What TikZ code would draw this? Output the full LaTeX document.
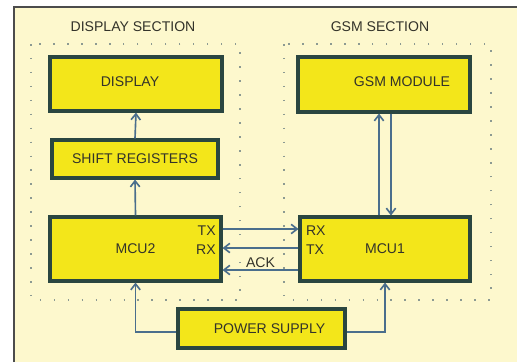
\documentclass[tikz,border=0pt]{standalone}
\usepackage{fontspec}
\setmainfont{Liberation Sans}
\usepackage{xcolor}
\usetikzlibrary{arrows.meta, positioning}

\definecolor{paper}{HTML}{FDF8CD}
\definecolor{blockfill}{HTML}{F3E61A}
\definecolor{blockline}{HTML}{2A4640}
\definecolor{linkblue}{HTML}{4A6E8C}
\definecolor{dotgray}{HTML}{8C9A92}
\definecolor{inkgray}{HTML}{33332A}

\begin{document}
\begin{tikzpicture}[
  x=0.03cm, y=-0.03cm,
  every node/.style={font=\fontsize{12}{14}\selectfont, text=inkgray},
  block/.style={draw=blockline, fill=blockfill, line width=2.6pt, inner sep=0pt},
  section/.style={draw=dotgray, line width=1.3pt, dash pattern=on 1.3pt off 10.6pt},
  link/.style={draw=linkblue, line width=1.4pt, -{Straight Barb[length=1.8mm,width=2.8mm]}},
  pin/.style={inner sep=0pt}
]
\useasboundingbox (0,0) rectangle (517,362);
\fill[paper] (14,7) rectangle (517,362);
\draw[gray!60!black, line width=1.5pt] (14,362) -- (14,7) -- (517,7);

% sections
\draw[section] (31,44) rectangle (240,300);
\draw[section] (284,44) rectangle (491,300);
\node (dispsec) at (133,27) {DISPLAY SECTION};
\node (gsmsec) at (380,27) {GSM SECTION};

% blocks
\node[block, minimum width=5.16cm, minimum height=1.62cm,
  label={[xshift=-0.18cm, yshift=0.07cm]center:DISPLAY}] (display) at (136,84) {};
\node[block, minimum width=4.98cm, minimum height=1.14cm] (shift) at (135,159) {SHIFT REGISTERS};
\node[block, minimum width=5.13cm, minimum height=1.92cm] (mcu2) at (135.5,249) {MCU2};
\node[block, minimum width=5.16cm, minimum height=1.65cm,
  label={[xshift=0.54cm, yshift=0.08cm]center:GSM MODULE}] (gsm) at (384,84.5) {};
\node[block, minimum width=5.1cm, minimum height=1.92cm] (mcu1) at (385,249) {MCU1};
\node[block, minimum width=5.01cm, minimum height=1.17cm,
  label={[xshift=0.24cm]center:POWER SUPPLY}] (power) at (261.5,328.5) {};

% pins
\node[pin, anchor=east] (tx2) at ([xshift=-0.2cm, yshift=0.54cm]mcu2.east) {TX};
\node[pin, anchor=east] (rx2) at ([xshift=-0.2cm, yshift=-0.03cm]mcu2.east) {RX};
\node[pin, anchor=west] (rx1) at ([xshift=0.22cm, yshift=0.54cm]mcu1.west) {RX};
\node[pin, anchor=west] (tx1) at ([xshift=0.22cm, yshift=-0.03cm]mcu1.west) {TX};

% connections
\draw[link] (mcu2.north) -- (shift.south);
\draw[link] (shift.north) -- (display.south);

\coordinate (gsmup) at ([xshift=-0.18cm]mcu1.north);
\coordinate (gsmdown) at ([xshift=0.21cm]gsm.south);
\draw[link] (gsmup) -- (gsmup |- gsm.south);
\draw[link] (gsmdown) -- (gsmdown |- mcu1.north);

\draw[link] ([yshift=0.6cm]mcu2.east) -- ([yshift=0.6cm]mcu1.west);
\draw[link] ([yshift=0.03cm]mcu1.west) -- ([yshift=0.03cm]mcu2.east);
\draw[link] ([yshift=-0.63cm]mcu1.west) -- node[above, inner sep=1.5pt] (ack) {ACK} ([yshift=-0.63cm]mcu2.east);

\draw[link] ([yshift=-0.1cm]power.west) -| (mcu2.south);
\draw[link] ([yshift=-0.1cm]power.east) -| (mcu1.south);
\end{tikzpicture}
\end{document}
